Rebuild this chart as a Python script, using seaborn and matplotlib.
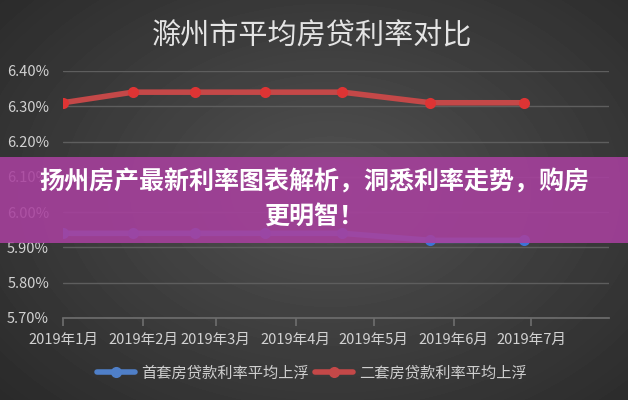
import numpy as np
import pandas as pd
import seaborn as sns
import matplotlib.pyplot as plt
from matplotlib.patches import Rectangle

# data (Excel-style date axis, points sit on their own days)
dates = ["2019-01-01", "2019-01-28", "2019-02-21", "2019-03-20",
         "2019-04-19", "2019-05-23", "2019-06-28"]
first_home = [5.94, 5.94, 5.94, 5.94, 5.94, 5.92, 5.92]
second_home = [6.31, 6.34, 6.34, 6.34, 6.34, 6.31, 6.31]
series_names = ["首套房贷款利率平均上浮", "二套房贷款利率平均上浮"]
month_ticks = ["2019-01-01", "2019-02-01", "2019-03-01", "2019-04-01",
               "2019-05-01", "2019-06-01", "2019-07-01"]
month_labels = ["2019年1月", "2019年2月", "2019年3月", "2019年4月",
                "2019年5月", "2019年6月", "2019年7月"]
y_ticks = [5.70, 5.80, 5.90, 6.00, 6.10, 6.20, 6.30, 6.40]

title = "滁州市平均房贷利率对比"
banner_lines = ["扬州房产最新利率图表解析，洞悉利率走势，购房", "更明智！"]


def main():
    df = pd.DataFrame({
        "date": pd.to_datetime(dates * 2),
        "rate": first_home + second_home,
        "series": [series_names[0]] * len(dates) + [series_names[1]] * len(dates),
    })

    sns.set_theme(style="dark")
    plt.rcParams['font.family'] = ['Noto Sans CJK SC', 'DejaVu Sans']

    fig = plt.figure(figsize=(6.28, 4), dpi=100)

    # dark radial background
    bg = fig.add_axes([0, 0, 1, 1], zorder=0)
    yy, xx = np.mgrid[0:400, 0:628]
    r = np.sqrt(((xx - 330) / 430.0) ** 2 + ((yy - 190) / 300.0) ** 2)
    shade = 0.32 - 0.15 * np.clip(r, 0, 1.2)
    bg.imshow(shade, cmap="gray", vmin=0, vmax=1, aspect="auto")
    bg.axis("off")

    ax = fig.add_axes([63 / 628, 82 / 400, 546 / 628, 247 / 400], zorder=1)
    ax.patch.set_alpha(0)

    sns.lineplot(data=df, x="date", y="rate", hue="series", hue_order=series_names,
                 palette=["#4f7fc8", "#c44848"], marker="o", markersize=8,
                 markeredgewidth=0, linewidth=4, ax=ax)
    for line, mc in zip(ax.lines, ["#3d73d6", "#de3434"]):
        line.set_markerfacecolor(mc)

    ax.set_ylim(5.70, 6.40)
    ax.set_yticks(y_ticks)
    ax.set_yticklabels([f"{v:.2f}%" for v in y_ticks])
    ax.set_xlim(pd.Timestamp("2019-01-01"), pd.Timestamp("2019-07-31"))
    ax.set_xticks(pd.to_datetime(month_ticks))
    ax.set_xticklabels(month_labels)
    ax.set_xlabel("")
    ax.set_ylabel("")

    ax.grid(axis="y", color="#5e5e5e", linewidth=1)
    ax.grid(axis="x", visible=False)
    for side in ["top", "right", "left"]:
        ax.spines[side].set_visible(False)
    ax.spines["bottom"].set_color("#6c6c6c")
    ax.tick_params(axis="x", length=6, color="#6c6c6c", direction="out",
                   pad=5, labelsize=10.5, labelcolor="#d2d2d2", bottom=True)
    ax.tick_params(axis="y", length=0, pad=10, labelsize=10.5, labelcolor="#d2d2d2")

    sns.move_legend(ax, "center", bbox_to_anchor=(0.456, -0.223), ncol=2,
                    frameon=False, title=None, fontsize=11, labelcolor="#cfcfcf",
                    handlelength=2.5, handletextpad=0.4, columnspacing=0.4)

    fig.text(312 / 628, 1 - 36 / 400, title, ha="center", va="center",
             fontsize=21, color="#e4e4e4")

    # purple banner over the chart
    fig.add_artist(Rectangle((0, 1 - 243 / 400), 1, 86 / 400, transform=fig.transFigure,
                             facecolor="#a8409e", alpha=0.88, edgecolor="none", zorder=10))
    fig.text(0.5, 1 - 182 / 400, banner_lines[0], ha="center", va="center",
             fontsize=18, fontweight="bold", color="white", zorder=11)
    fig.text(0.5, 1 - 217 / 400, banner_lines[1], ha="center", va="center",
             fontsize=18, fontweight="bold", color="white", zorder=11)

    fig.savefig("out.png", dpi=100)
    plt.close(fig)


if __name__ == "__main__":
    main()
